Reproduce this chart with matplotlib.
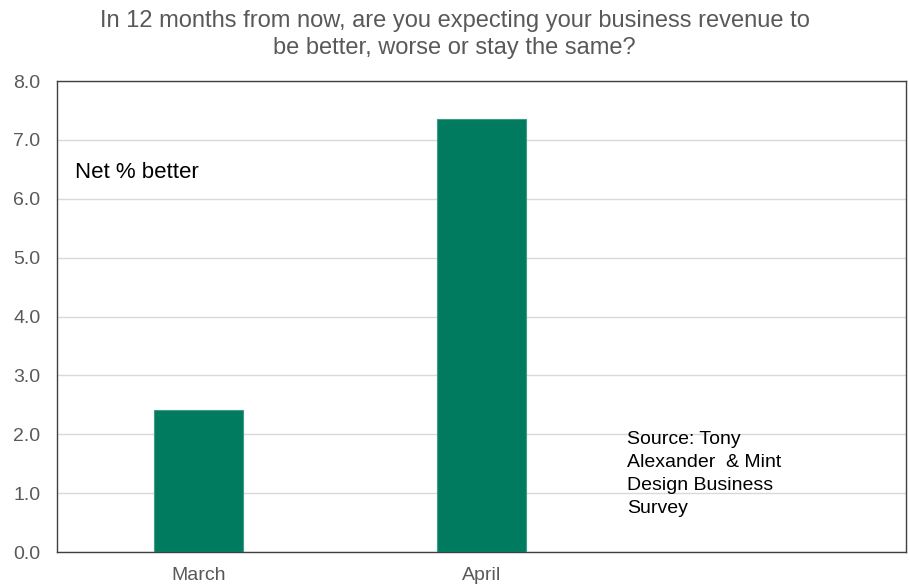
import matplotlib
matplotlib.use("Agg")
import matplotlib.pyplot as plt
import numpy as np

plt.rcParams['font.family'] = ['Liberation Sans', 'DejaVu Sans']

# survey months (third slot left empty on purpose)
months = ['March', 'April', '']
net_better = [2.42, 7.35, np.nan]
y_ticks = [0, 1, 2, 3, 4, 5, 6, 7, 8]

title = ('In 12 months from now, are you expecting your business revenue to\n'
         'be better, worse or stay the same?')
source = 'Source: Tony\nAlexander  & Mint\nDesign Business\nSurvey'

bar_color = '#007B5F'
grid_color = '#D9D9D9'
text_grey = '#595959'

W, H = 909, 585
fig = plt.figure(figsize=(W / 100, H / 100), dpi=100)
ax = fig.add_axes([0.0627, 0.0564, 0.934, 0.8051])

x = np.arange(len(months))
ax.bar(x, net_better, width=0.314, color=bar_color, edgecolor='#3E9B84',
       linewidth=0.8, zorder=3)

ax.set_xlim(-0.5, len(months) - 0.5)
ax.set_ylim(0, 8)
ax.set_yticks(y_ticks)
ax.set_yticklabels([f'{v:.1f}' for v in y_ticks])
ax.set_xticks(x)
ax.set_xticklabels(months)

ax.yaxis.grid(True, color=grid_color, linewidth=1.0, zorder=0)
ax.set_axisbelow(True)
ax.tick_params(axis='both', length=0, labelsize=14, labelcolor=text_grey)
ax.tick_params(axis='y', pad=12)
ax.tick_params(axis='x', pad=11)

for s in ax.spines.values():
    s.set_color('#404040')
    s.set_linewidth(1.0)

fig.text(0.5, 1 - 34.5 / H, title, ha='center', va='center', fontsize=17,
         color=text_grey, linespacing=1.27)

# annotations placed in pixel space (y measured from the top edge)
fig.text(75 / W, 1 - 172 / H, 'Net % better', fontsize=16, color='black',
         ha='left', va='center')
fig.text(627 / W, 1 - 431 / H, source, fontsize=14, color='black',
         ha='left', va='top', linespacing=1.47)

fig.savefig('out.png', dpi=100)
